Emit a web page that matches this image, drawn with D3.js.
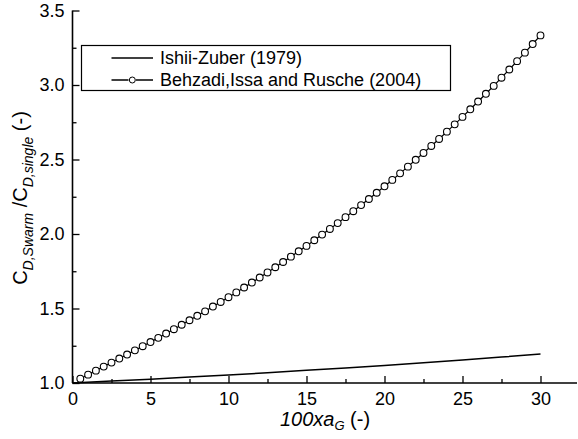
<!DOCTYPE html>
<html><head><meta charset="utf-8">
<script src="https://cdn.jsdelivr.net/npm/d3@7"></script>
<style>body{margin:0;background:#fff}svg{display:block}text{font-family:"Liberation Sans",Arial,sans-serif;fill:#000}</style>
</head><body>
<svg id="c" width="578" height="439"></svg>
<script>
// Data (x = 100·α_G)
const behzadiX = [0.5,1,1.5,2,2.5,3,3.5,4,4.5,5,5.5,6,6.5,7,7.5,8,8.5,9,9.5,10,10.5,11,11.5,12,12.5,13,13.5,14,14.5,15,15.5,16,16.5,17,17.5,18,18.5,19,19.5,20,20.5,21,21.5,22,22.5,23,23.5,24,24.5,25,25.5,26,26.5,27,27.5,28,28.5,29,29.5,30];
const behzadiY = [1.029,1.056,1.083,1.110,1.137,1.164,1.191,1.219,1.247,1.275,1.303,1.332,1.361,1.391,1.421,1.451,1.481,1.513,1.544,1.576,1.608,1.641,1.674,1.708,1.742,1.777,1.812,1.848,1.884,1.920,1.958,1.996,2.034,2.073,2.113,2.153,2.194,2.235,2.277,2.320,2.363,2.407,2.452,2.498,2.544,2.591,2.638,2.687,2.736,2.786,2.837,2.889,2.941,2.994,3.049,3.104,3.160,3.217,3.275,3.333];
const ishiiX = [0,2.5,5,7.5,10,12.5,15,17.5,20,22.5,25,27.5,30];
const ishiiY = [1.000,1.013,1.026,1.040,1.054,1.069,1.085,1.101,1.118,1.136,1.155,1.174,1.195];
const xTicks = [0,5,10,15,20,25,30];
const xMinorTicks = [2.5,7.5,12.5,17.5,22.5,27.5];
const yTicks = [1.0,1.5,2.0,2.5,3.0,3.5];
const yMinorTicks = [1.25,1.75,2.25,2.75,3.25];
const legendLabels = ["Ishii-Zuber (1979)","Behzadi,Issa and Rusche (2004)"];

const svg = d3.select("#c");
const x = d3.scaleLinear().domain([0,32.34]).range([72.5,577]);
const y = d3.scaleLinear().domain([1.0,3.5]).range([383,10.5]);

const xAxis = d3.axisBottom(x).tickValues(xTicks).tickSize(-7).tickPadding(9).tickFormat(d3.format("d"));
const xMinor = d3.axisBottom(x).tickValues(xMinorTicks).tickSize(-4).tickFormat("");
const yAxis = d3.axisLeft(y).tickValues(yTicks).tickSize(-7).tickPadding(8).tickFormat(d3.format(".1f"));
const yMinor = d3.axisLeft(y).tickValues(yMinorTicks).tickSize(-4).tickFormat("");

function style(g){
  g.select(".domain").attr("stroke","#000").attr("stroke-width",1.6);
  g.selectAll(".tick line").attr("stroke","#000").attr("stroke-width",1.3);
  g.selectAll(".tick text").attr("font-size",18).attr("font-family","Liberation Sans, Arial, sans-serif");
}
svg.append("g").attr("transform","translate(0,383)").call(xMinor).call(style).select(".domain").remove();
svg.append("g").attr("transform","translate(0,383)").call(xAxis).call(style)
  .select(".domain").attr("d","M72.5,0H577");
svg.append("g").attr("transform","translate(72.5,0)").call(yMinor).call(style).select(".domain").remove();
svg.append("g").attr("transform","translate(72.5,0)").call(yAxis).call(style)
  .select(".domain").attr("d","M0,10.5V383");

// Ishii-Zuber line
const line = d3.line().x(d=>x(d[0])).y(d=>y(d[1]));
svg.append("path").datum(ishiiX.map((v,i)=>[v,ishiiY[i]]))
  .attr("d",line).attr("fill","none").attr("stroke","#000").attr("stroke-width",1.5);

// Behzadi line + markers
const bd = behzadiX.map((v,i)=>[v,behzadiY[i]]);
svg.append("path").datum(bd).attr("d",line).attr("fill","none").attr("stroke","#000").attr("stroke-width",1.2);
svg.append("g").selectAll("circle").data(bd).join("circle")
  .attr("cx",d=>x(d[0])).attr("cy",d=>y(d[1])).attr("r",3.4)
  .attr("fill","#fff").attr("stroke","#000").attr("stroke-width",1.1);

// legend
const lg = svg.append("g");
lg.append("rect").attr("x",81.5).attr("y",45.5).attr("width",369).attr("height",45)
  .attr("fill","#fff").attr("stroke","#000").attr("stroke-width",1.2);
lg.append("line").attr("x1",111.5).attr("x2",153).attr("y1",58).attr("y2",58).attr("stroke","#000").attr("stroke-width",1.5);
lg.append("line").attr("x1",111.5).attr("x2",128.5).attr("y1",80).attr("y2",80).attr("stroke","#000").attr("stroke-width",1.5);
lg.append("line").attr("x1",136).attr("x2",153).attr("y1",80).attr("y2",80).attr("stroke","#000").attr("stroke-width",1.5);
lg.append("circle").attr("cx",132.3).attr("cy",80).attr("r",3).attr("fill","#fff").attr("stroke","#000").attr("stroke-width",1);
lg.selectAll("text.lab").data(legendLabels).join("text").attr("class","lab")
  .attr("x",160).attr("y",(d,i)=>58+i*22).attr("dy","0.35em").attr("font-size",18).text(d=>d);

// x title
const xt = svg.append("text").attr("x",325).attr("y",426).attr("text-anchor","middle").attr("font-size",20);
xt.append("tspan").attr("font-style","italic").text("100xa");
xt.append("tspan").attr("font-style","italic").attr("font-size",13).attr("dy",4).text("G");
xt.append("tspan").attr("dy",-4).text(" (-)");

// y title
const yt = svg.append("text").attr("transform","translate(27,198) rotate(-90)").attr("text-anchor","middle").attr("font-size",20);
yt.append("tspan").text("C");
yt.append("tspan").attr("font-style","italic").attr("font-size",14).attr("dy",6).text("D,Swarm");
yt.append("tspan").attr("dy",-6).text(" /C");
yt.append("tspan").attr("font-style","italic").attr("font-size",14).attr("dy",6).text("D,single");
yt.append("tspan").attr("dy",-6).text(" (-)");
</script>
</body></html>
